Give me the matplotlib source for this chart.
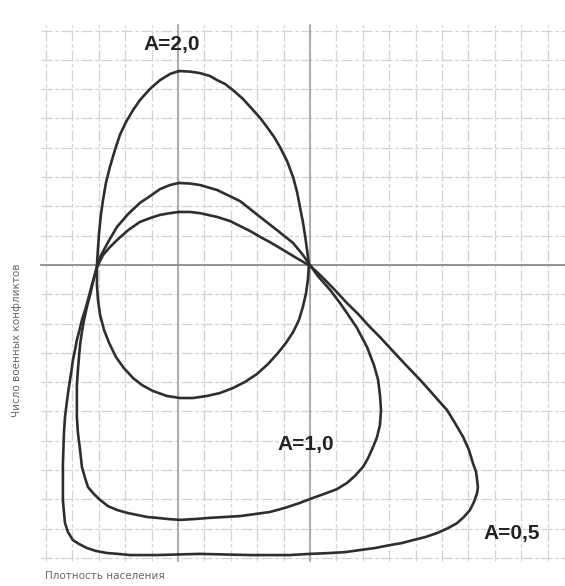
import matplotlib
matplotlib.use("Agg")
import matplotlib.pyplot as plt

# Phase trajectories for three values of A (grid units, origin at the central stationary axis)
a20_x = [0.04, 0.45, 0.83, 1.21, 1.48, 1.78, 2.08, 2.46, 2.84, 3.11, 3.37, 3.64, 3.86, 4.13,
         4.36, 4.51, 4.62, 4.73, 4.81, 4.89, 4.96, 4.92, 4.85, 4.73, 4.58, 4.36, 4.09, 3.79,
         3.41, 2.99, 2.54, 2.08, 1.59, 1.10, 0.57, 0.08, -0.42, -0.95, -1.36, -1.70, -2.05,
         -2.35, -2.61, -2.80, -2.95, -3.03, -3.07, -3.07, -3.03, -2.99, -2.92, -2.84, -2.73,
         -2.58, -2.39, -2.20, -1.97, -1.70, -1.44, -1.06, -0.68, -0.30, 0.04]
a20_y = [6.62, 6.60, 6.55, 6.45, 6.31, 6.18, 5.97, 5.67, 5.29, 5.02, 4.71, 4.37, 4.03, 3.55,
         3.00, 2.49, 1.98, 1.47, 1.02, 0.51, 0.00, -0.51, -0.96, -1.43, -1.88, -2.29, -2.66,
         -3.00, -3.38, -3.72, -3.99, -4.20, -4.37, -4.47, -4.54, -4.54, -4.47, -4.30, -4.10,
         -3.86, -3.52, -3.14, -2.66, -2.22, -1.71, -1.19, -0.68, 0.00, 0.58, 1.09, 1.71, 2.22,
         2.80, 3.34, 3.92, 4.44, 4.88, 5.29, 5.63, 6.01, 6.31, 6.52, 6.62]

a10_x = [0.04, 0.45, 0.83, 1.48, 2.35, 3.11, 3.75, 4.36, 4.70, 5.00, 5.30, 5.76, 6.14, 6.40,
         6.78, 7.16, 7.42, 7.58, 7.65, 7.69, 7.65, 7.54, 7.39, 7.20, 7.01, 6.70, 6.40, 6.02,
         5.64, 5.11, 4.62, 4.05, 3.48, 2.92, 2.35, 1.78, 1.21, 0.64, 0.08, -0.38, -0.80, -1.17,
         -1.55, -1.93, -2.31, -2.65, -2.95, -3.18, -3.41, -3.52, -3.64, -3.71, -3.79, -3.83,
         -3.83, -3.83, -3.79, -3.75, -3.71, -3.64, -3.56, -3.45, -3.33, -3.22, -3.07, -2.95,
         -2.65, -2.31, -1.89, -1.44, -1.06, -0.68, -0.30, 0.04]
a10_y = [2.80, 2.78, 2.73, 2.56, 2.18, 1.64, 1.19, 0.75, 0.38, 0.00, -0.38, -0.85, -1.30,
         -1.64, -2.15, -2.80, -3.41, -3.92, -4.44, -4.95, -5.46, -5.87, -6.21, -6.59, -6.89,
         -7.20, -7.44, -7.65, -7.78, -7.95, -8.12, -8.29, -8.43, -8.50, -8.57, -8.60, -8.63,
         -8.67, -8.70, -8.67, -8.63, -8.60, -8.53, -8.46, -8.36, -8.23, -8.02, -7.82, -7.58,
         -7.27, -6.89, -6.31, -5.73, -5.19, -4.61, -4.10, -3.58, -3.14, -2.73, -2.29, -1.88,
         -1.43, -1.02, -0.58, -0.07, 0.27, 0.78, 1.30, 1.74, 2.12, 2.35, 2.59, 2.73, 2.80]

a05_x = [0.04, 0.45, 0.83, 1.48, 1.97, 2.35, 2.73, 3.11, 3.48, 3.86, 4.43, 5.00, 5.30, 5.57,
         5.98, 6.40, 6.82, 7.23, 7.65, 8.14, 8.67, 9.17, 9.55, 9.92, 10.19, 10.49, 10.80,
         11.02, 11.17, 11.29, 11.33, 11.36, 11.33, 11.21, 11.06, 10.83, 10.57, 10.23, 9.81,
         9.39, 8.90, 8.48, 8.03, 7.46, 6.89, 6.33, 5.76, 5.00, 4.24, 3.48, 2.73, 1.78, 0.83,
         0.00, -0.80, -1.33, -1.82, -2.27, -2.69, -3.11, -3.45, -3.75, -3.98, -4.17, -4.28,
         -4.32, -4.36, -4.36, -4.36, -4.34, -4.32, -4.28, -4.20, -4.15, -4.09, -4.03, -3.98,
         -3.90, -3.83, -3.73, -3.64, -3.52, -3.41, -3.26, -3.07, -2.84, -2.58, -2.31, -1.89,
         -1.44, -1.06, -0.68, -0.30, 0.04]
a05_y = [1.81, 1.81, 1.77, 1.64, 1.50, 1.33, 1.16, 0.96, 0.78, 0.58, 0.27, -0.03, -0.27,
         -0.51, -0.89, -1.30, -1.67, -2.08, -2.46, -2.94, -3.45, -3.92, -4.30, -4.68, -4.95,
         -5.39, -5.87, -6.31, -6.76, -7.06, -7.34, -7.58, -7.78, -8.09, -8.36, -8.60, -8.81,
         -8.98, -9.15, -9.28, -9.39, -9.49, -9.56, -9.66, -9.73, -9.80, -9.83, -9.86, -9.90,
         -9.90, -9.90, -9.88, -9.86, -9.88, -9.90, -9.90, -9.90, -9.86, -9.83, -9.76, -9.66,
         -9.52, -9.39, -9.11, -8.81, -8.43, -8.02, -7.44, -6.83, -6.28, -5.73, -5.19, -4.61,
         -4.27, -3.92, -3.58, -3.24, -2.90, -2.56, -2.22, -1.88, -1.54, -1.19, -0.68, -0.07,
         0.34, 0.61, 0.85, 1.19, 1.47, 1.60, 1.71, 1.77, 1.81]

labels = ["A=2,0", "A=1,0", "A=0,5"]
label_pos = [(-0.23, 7.54), (4.85, -6.11), (12.65, -9.15)]

grid_x = list(range(-5, 15))
grid_y = list(range(-10, 9))
main_x = [0, 5]
main_y = [0]

fig = plt.figure(figsize=(5.65, 5.86), dpi=100)
ax = fig.add_axes([0, 0, 1, 1])
ax.set_xlim(-6.742, 14.659)
ax.set_ylim(-10.956, 9.044)
ax.axis("off")

# graph paper
for gx in grid_x:
    ax.plot([gx, gx], [-10.1, 8.2], color="#d2d2d2", lw=0.9,
            linestyle=(0, (9, 2, 3, 2)), zorder=1)
for gy in grid_y:
    ax.plot([-5.2, 14.7], [gy, gy], color="#d2d2d2", lw=0.9,
            linestyle=(0, (9, 2, 3, 2)), zorder=1)
for mx in main_x:
    ax.plot([mx, mx], [-10.1, 8.2], color="#a0a0a0", lw=1.2, zorder=2)
for my in main_y:
    ax.plot([-5.2, 14.7], [my, my], color="#8c8c8c", lw=1.3, zorder=2)

# trajectories
for xs, ys in [(a20_x, a20_y), (a10_x, a10_y), (a05_x, a05_y)]:
    ax.plot(xs, ys, color="#2e2e2e", lw=1.9, solid_joinstyle="round",
            solid_capstyle="round", zorder=3)

for text, (tx, ty) in zip(labels, label_pos):
    ax.text(tx, ty, text, ha="center", va="center", fontsize=15,
            fontweight="bold", family=["Liberation Sans", "DejaVu Sans"],
            color="#222222", zorder=4)

fig.text(17 / 565, 1 - 340 / 586, "Число военных конфликтов", rotation=90,
         ha="center", va="center", fontsize=7.5, color="#666666")
fig.text(45 / 565, 1 - 576 / 586, "Плотность населения", ha="left",
         va="center", fontsize=7.5, color="#666666")

fig.savefig("out.png", dpi=100)
